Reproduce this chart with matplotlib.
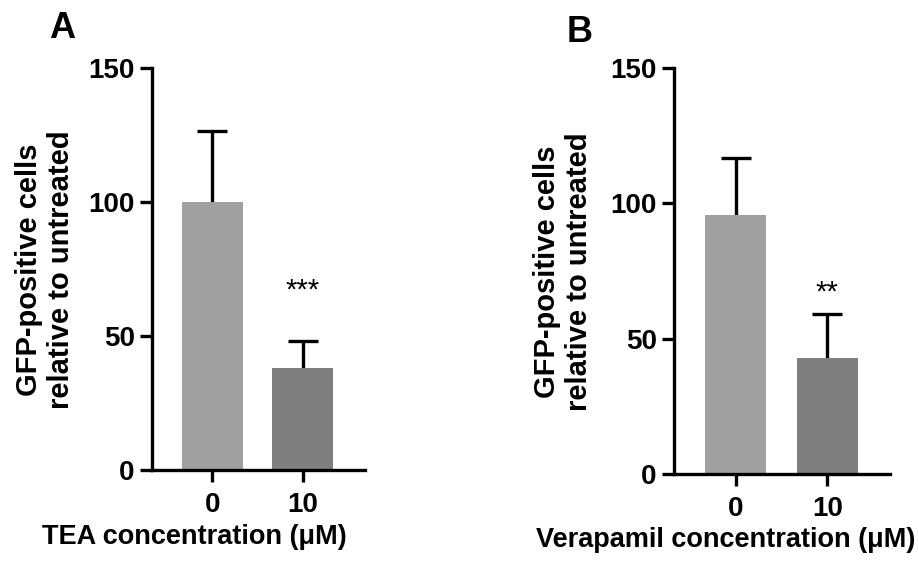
import matplotlib
matplotlib.use("Agg")
import matplotlib.pyplot as plt
import numpy as np

plt.rcParams['font.family'] = ['Liberation Sans', 'DejaVu Sans']
plt.rcParams['font.weight'] = 'bold'

doses = ['0', '10']
bar_colors = ['#a0a0a0', '#7f7f7f']

# panel A: TEA
tea_mean = [100.0, 38.2]
tea_err = [26.5, 10.0]
tea_sig = '***'

# panel B: verapamil
vera_mean = [95.6, 42.9]
vera_err = [21.3, 16.1]
vera_sig = '**'

W, H = 920, 570
fig = plt.figure(figsize=(9.2, 5.7), dpi=100)
LW = 2.4


def px_axes(x0, y0, x1, y1):
    # box in pixel coords (origin top-left)
    return fig.add_axes([x0 / W, 1 - y1 / H, (x1 - x0) / W, (y1 - y0) / H])


def panel(ax, means, errs, sig, xlim):
    x = np.arange(len(means))
    means = np.array(means)
    tops = means + np.array(errs)
    ax.bar(x, means, width=0.67, color=bar_colors, zorder=2)
    # upper-only error bars with caps
    ax.vlines(x, means, tops, color='black', lw=LW, zorder=1)
    ax.hlines(tops, x - 0.165, x + 0.165, color='black', lw=LW, zorder=1)
    ax.text(x[1], 67, sig, ha='center', va='center', fontsize=21,
            fontweight='normal')
    ax.set_xlim(*xlim)
    ax.set_ylim(0, 150)
    ax.set_yticks([0, 50, 100, 150])
    ax.set_xticks(x)
    ax.set_xticklabels(doses)
    for s in ['top', 'right']:
        ax.spines[s].set_visible(False)
    for s in ['left', 'bottom']:
        ax.spines[s].set_linewidth(LW)
    ax.tick_params(axis='both', width=LW, length=8.5, color='black')
    ax.tick_params(axis='y', labelsize=20, pad=4)
    ax.tick_params(axis='x', labelsize=20, pad=7)


axA = px_axes(152, 68, 365, 470)
panel(axA, tea_mean, tea_err, tea_sig, (-0.667, 1.69))

axB = px_axes(674, 68, 890, 474)
panel(axB, vera_mean, vera_err, vera_sig, (-0.676, 1.687))

ylab = 'GFP-positive cells\nrelative to untreated'
fig.text(45 / W, 1 - 270 / H, ylab, rotation=90, ha='center', va='center',
         fontsize=21, linespacing=1.2)
fig.text(563 / W, 1 - 272 / H, ylab, rotation=90, ha='center', va='center',
         fontsize=21, linespacing=1.2)

fig.text(194 / W, 1 - 537 / H, 'TEA concentration (\u03bcM)', ha='center',
         va='center', fontsize=19.5)
fig.text(726 / W, 1 - 540 / H, 'Verapamil concentration (\u03bcM)', ha='center',
         va='center', fontsize=19.5)

fig.text(62 / W, 1 - 28 / H, 'A', ha='center', va='center', fontsize=26)
fig.text(580 / W, 1 - 32 / H, 'B', ha='center', va='center', fontsize=26)

fig.savefig('out.png', dpi=100)
